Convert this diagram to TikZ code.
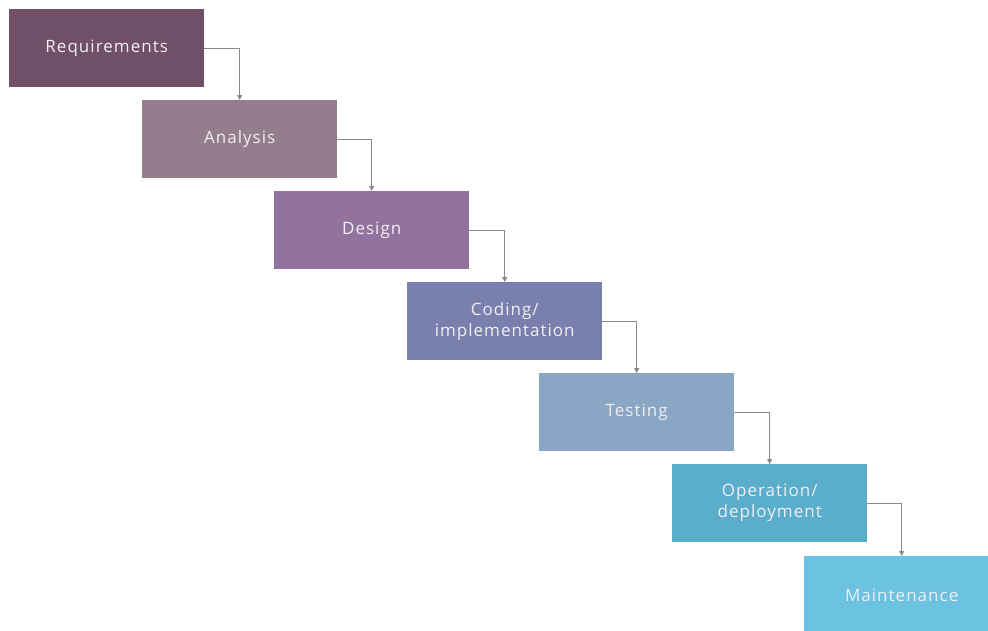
\documentclass[tikz,border=0pt]{standalone}
\usepackage{fontspec}
\setmainfont{Open Sans}[LetterSpace=6]
\usetikzlibrary{arrows.meta}
\definecolor{cReq}{HTML}{6F5068}
\definecolor{cAna}{HTML}{947E8D}
\definecolor{cDes}{HTML}{92739E}
\definecolor{cCod}{HTML}{7A80AD}
\definecolor{cTes}{HTML}{89A6C4}
\definecolor{cOpe}{HTML}{5AADCB}
\definecolor{cMai}{HTML}{6CC2E1}
\definecolor{lineGray}{HTML}{8A8A8A}
\definecolor{labelWhite}{HTML}{F2EEF2}
\tikzset{
  phase/.style={anchor=north west, minimum width=195pt, minimum height=78pt,
    inner sep=0pt, fill=#1, draw=none, text=labelWhite, align=center,
    font=\fontsize{17}{21}\selectfont},
  flow/.style={draw=lineGray, line width=1.1pt,
    -{Triangle[length=5pt,width=5pt]}},
}
\begin{document}
\begin{tikzpicture}[x=1pt,y=-1pt]
\useasboundingbox (0,0) rectangle (988,630);
\begin{scope}
\clip (0,0) rectangle (988,630);
\node[phase=cReq] (req) at (9,9) {Requirements};
\node[phase=cAna] (ana) at (142,100) {Analysis};
\node[phase=cDes] (des) at (274,191) {Design};
\node[phase=cCod] (cod) at (407,282) {Coding/\\implementation};
\node[phase=cTes] (tes) at (539,373) {Testing};
\node[phase=cOpe] (ope) at (672,464) {Operation/\\deployment};
\node[phase=cMai] (mai) at (804,556) {Maintenance};
\draw[flow] (req.east) -| (ana.north);
\draw[flow] (ana.east) -| (des.north);
\draw[flow] (des.east) -| (cod.north);
\draw[flow] (cod.east) -| (tes.north);
\draw[flow] (tes.east) -| (ope.north);
\draw[flow] (ope.east) -| (mai.north);
\end{scope}
\end{tikzpicture}
\end{document}
